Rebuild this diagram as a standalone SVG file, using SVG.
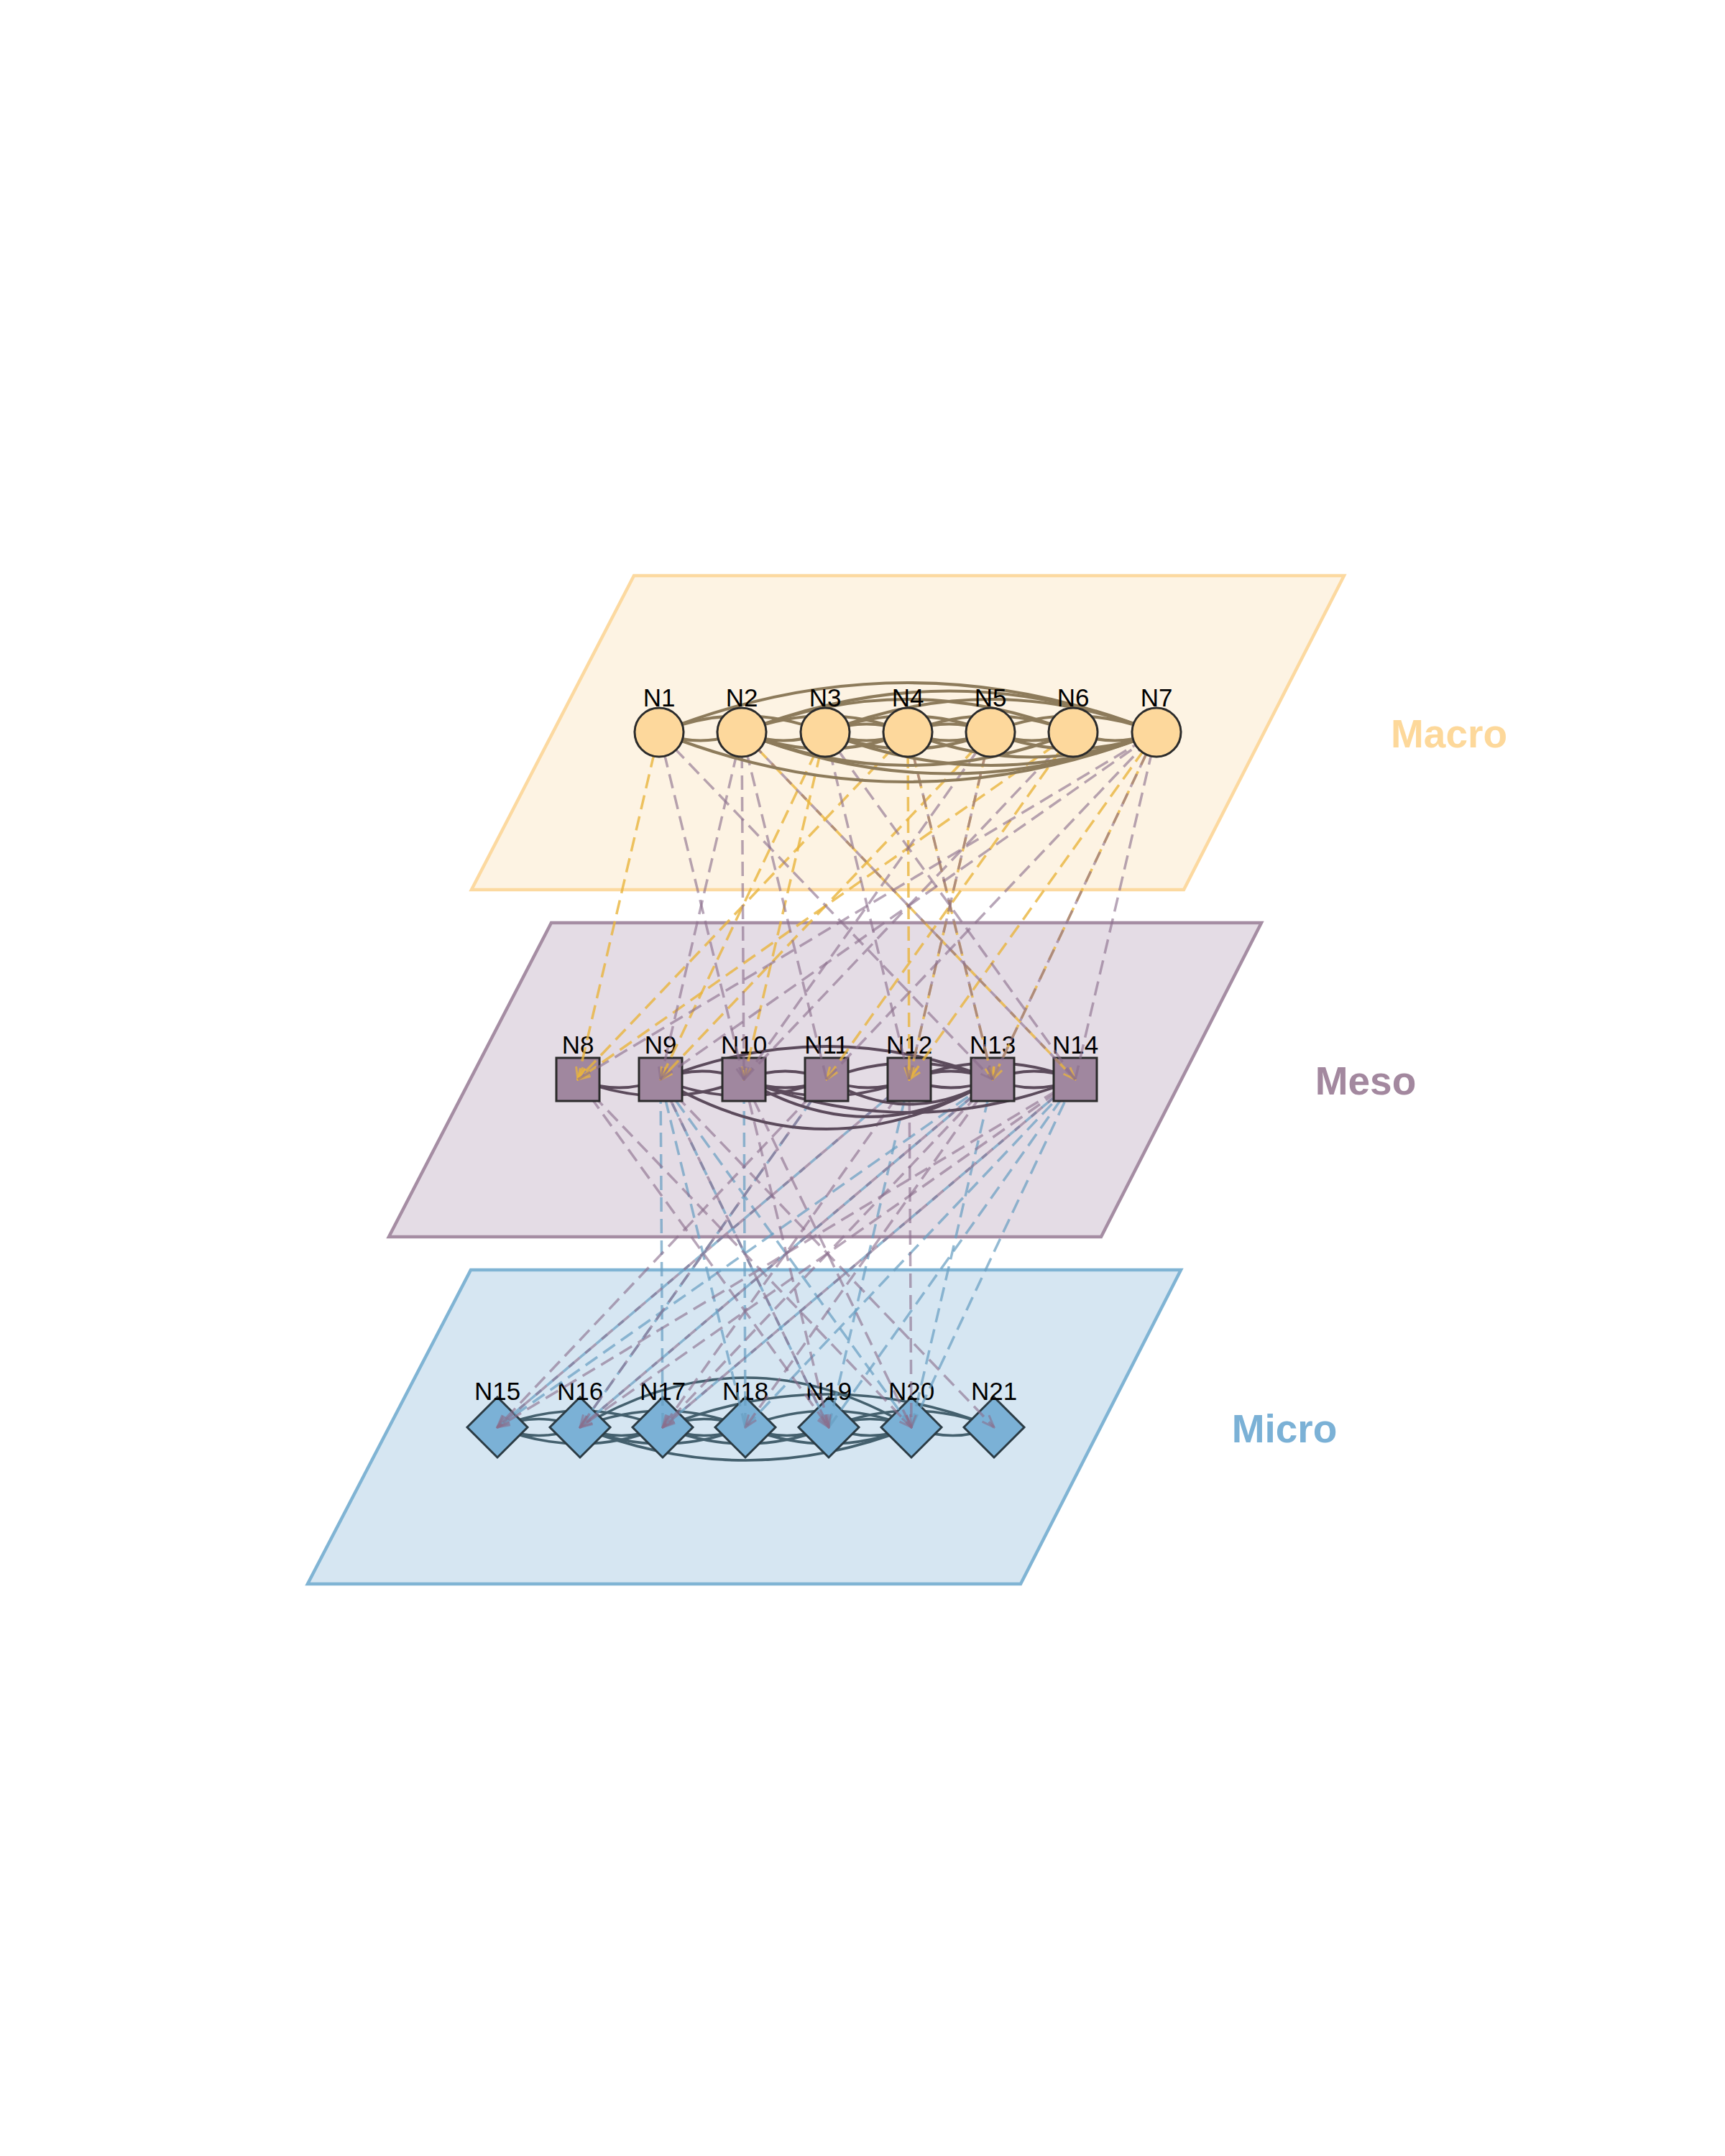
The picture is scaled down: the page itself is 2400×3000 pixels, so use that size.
<svg xmlns="http://www.w3.org/2000/svg" width="2400" height="3000" viewBox="0 0 2400 3000">
<defs>
<style>
.lbl{font-family:"Liberation Sans",Arial,sans-serif;font-size:35px;fill:#000;text-anchor:middle}
.layer{font-family:"Liberation Sans",Arial,sans-serif;font-size:55px;font-weight:bold;text-anchor:middle}
.em{fill:none;stroke:#8d7b5b;stroke-width:4.2}
.es{fill:none;stroke:#5c4b5c;stroke-width:4}
.eu{fill:none;stroke:#44606e;stroke-width:3.6}
.y{fill:none;stroke:#e9b43c;stroke-opacity:0.8;stroke-width:3.5;stroke-dasharray:20 10;marker-end:url(#ay)}
.p{fill:none;stroke:#8a6e8c;stroke-opacity:0.62;stroke-width:3.5;stroke-dasharray:20 10;marker-end:url(#ap)}
.b{fill:none;stroke:#6a9fc2;stroke-opacity:0.72;stroke-width:3.5;stroke-dasharray:20 10;marker-end:url(#ab)}
.nm{fill:#fdd89c;stroke:#2b2b2b;stroke-width:3}
.ns{fill:#a0879f;stroke:#2b2b2b;stroke-width:3}
.nu{fill:#7bb1d6;stroke:#2b3b44;stroke-width:3}
</style>
<marker id="ay" viewBox="-20 -10 22 20" refX="0" refY="0" markerWidth="22" markerHeight="20" markerUnits="userSpaceOnUse" orient="auto"><path d="M-17,-6.5 L0,0 L-17,6.5" fill="none" stroke="#e9b43c" stroke-opacity="0.75" stroke-width="3"/></marker>
<marker id="ap" viewBox="-20 -10 22 20" refX="0" refY="0" markerWidth="22" markerHeight="20" markerUnits="userSpaceOnUse" orient="auto"><path d="M-17,-6.5 L0,0 L-17,6.5" fill="none" stroke="#8a6e8c" stroke-opacity="0.6" stroke-width="3"/></marker>
<marker id="ab" viewBox="-20 -10 22 20" refX="0" refY="0" markerWidth="22" markerHeight="20" markerUnits="userSpaceOnUse" orient="auto"><path d="M-17,-6.5 L0,0 L-17,6.5" fill="none" stroke="#6a9fc2" stroke-opacity="0.7" stroke-width="3"/></marker>
</defs>
<rect width="2400" height="3000" fill="#ffffff"/>

<g id="planes">
<polygon id="plane-macro" points="882,801 1870,801 1647,1238 656,1238" fill="#fdf3e3" stroke="#fcd9a0" stroke-width="4.5"/>
<polygon id="plane-meso" points="767,1284 1755,1284 1532,1721 541,1721" fill="#e4dce5" stroke="#a58da3" stroke-width="4.5"/>
<polygon id="plane-micro" points="655,1767 1643,1767 1420,2204 428,2204" fill="#d6e6f2" stroke="#80b4d4" stroke-width="4.5"/>
</g>

<g id="micro-connectors">
<path class="eu" d="M807,1986 Q1037.5,1848 1268,1986"/>
<path class="eu" d="M922,1986 Q1152.5,1894 1383,1986"/>
<path class="eu" d="M692,1986 Q807,1940 922,1986"/>
<path class="eu" d="M807,1986 Q922,1940 1037,1986"/>
<path class="eu" d="M1037,1986 Q1152.5,1940 1268,1986"/>
<path class="eu" d="M692,1986 Q749.5,1963 807,1986"/>
<path class="eu" d="M922,1986 Q979.5,1963 1037,1986"/>
<path class="eu" d="M1153,1986 Q1210.5,1963 1268,1986"/>
<path class="eu" d="M1153,1986 Q1268,1940 1383,1986"/>
<path class="eu" d="M807,1986 Q1037.5,2078 1268,1986"/>
<path class="eu" d="M807,1986 Q922,2032 1037,1986"/>
<path class="eu" d="M922,1986 Q1037.5,2032 1153,1986"/>
<path class="eu" d="M1037,1986 Q1152.5,2032 1268,1986"/>
<path class="eu" d="M692,1986 Q749.5,2009 807,1986"/>
<path class="eu" d="M807,1986 Q864.5,2009 922,1986"/>
<path class="eu" d="M922,1986 Q979.5,2009 1037,1986"/>
<path class="eu" d="M1037,1986 Q1095,2009 1153,1986"/>
<path class="eu" d="M1153,1986 Q1210.5,2009 1268,1986"/>
<path class="eu" d="M1268,1986 Q1325.5,2009 1383,1986"/>
<path class="eu" d="M692,1986 Q807,2032 922,1986"/>
</g>

<g id="N15"><polygon class="nu" points="692,1944 734,1986 692,2028 650,1986"/><text class="lbl" x="692" y="1948">N15</text></g>
<g id="N16"><polygon class="nu" points="807,1944 849,1986 807,2028 765,1986"/><text class="lbl" x="807" y="1948">N16</text></g>
<g id="N17"><polygon class="nu" points="922,1944 964,1986 922,2028 880,1986"/><text class="lbl" x="922" y="1948">N17</text></g>
<g id="N18"><polygon class="nu" points="1037,1944 1079,1986 1037,2028 995,1986"/><text class="lbl" x="1037" y="1948">N18</text></g>
<g id="N19"><polygon class="nu" points="1153,1944 1195,1986 1153,2028 1111,1986"/><text class="lbl" x="1153" y="1948">N19</text></g>
<g id="N20"><polygon class="nu" points="1268,1944 1310,1986 1268,2028 1226,1986"/><text class="lbl" x="1268" y="1948">N20</text></g>
<g id="N21"><polygon class="nu" points="1383,1944 1425,1986 1383,2028 1341,1986"/><text class="lbl" x="1383" y="1948">N21</text></g>

<g id="meso-micro-connectors">
<path class="b" d="M922,1986 L919,1502"/>
<path class="b" d="M1037,1986 L919,1502"/>
<path class="b" d="M1153,1986 L919,1502"/>
<path class="b" d="M1268,1986 L919,1502"/>
<path class="b" d="M1037,1986 L1035,1502"/>
<path class="b" d="M692,1986 L1265,1502"/>
<path class="b" d="M692,1986 L1381,1502"/>
<path class="b" d="M807,1986 L1150,1502"/>
<path class="b" d="M922,1986 L1496,1502"/>
<path class="b" d="M1037,1986 L1496,1502"/>
<path class="b" d="M1153,1986 L1265,1502"/>
<path class="b" d="M1268,1986 L1381,1502"/>
<path class="b" d="M1268,1986 L1496,1502"/>
<path class="b" d="M1153,1986 L1496,1502"/>
<path class="b" d="M807,1986 L1381,1502"/>
<path class="p" d="M804,1502 L1268,1986"/>
<path class="p" d="M804,1502 L1153,1986"/>
<path class="p" d="M919,1502 L1383,1986"/>
<path class="p" d="M1150,1502 L692,1986"/>
<path class="p" d="M1265,1502 L692,1986"/>
<path class="p" d="M1150,1502 L807,1986"/>
<path class="p" d="M1381,1502 L807,1986"/>
<path class="p" d="M1381,1502 L922,1986"/>
<path class="p" d="M1496,1502 L922,1986"/>
<path class="p" d="M1381,1502 L1037,1986"/>
<path class="p" d="M1035,1502 L1153,1986"/>
<path class="p" d="M1265,1502 L1268,1986"/>
<path class="p" d="M1496,1502 L692,1986"/>
<path class="p" d="M1496,1502 L807,1986"/>
<path class="p" d="M919,1502 L1153,1986"/>
<path class="p" d="M1265,1502 L922,1986"/>
<path class="p" d="M1035,1502 L1268,1986"/>
</g>

<g id="meso-connectors">
<path class="es" d="M919,1502 Q1150,1410 1381,1502"/>
<path class="es" d="M1265,1502 Q1380.5,1456 1496,1502"/>
<path class="es" d="M919,1502 Q977,1479 1035,1502"/>
<path class="es" d="M1035,1502 Q1092.5,1479 1150,1502"/>
<path class="es" d="M1265,1502 Q1323,1479 1381,1502"/>
<path class="es" d="M1381,1502 Q1438.5,1479 1496,1502"/>
<path class="es" d="M1150,1502 Q1265.5,1456 1381,1502"/>
<path class="es" d="M804,1502 Q861.5,1525 919,1502"/>
<path class="es" d="M804,1502 Q919.5,1548 1035,1502"/>
<path class="es" d="M919,1502 Q1150,1640 1381,1502"/>
<path class="es" d="M1035,1502 Q1208,1606 1381,1502"/>
<path class="es" d="M1150,1502 Q1265.5,1571 1381,1502"/>
<path class="es" d="M1035,1502 Q1092.5,1525 1150,1502"/>
<path class="es" d="M1150,1502 Q1207.5,1525 1265,1502"/>
<path class="es" d="M1265,1502 Q1323,1525 1381,1502"/>
<path class="es" d="M1381,1502 Q1438.5,1525 1496,1502"/>
<path class="es" d="M919,1502 Q1034.5,1548 1150,1502"/>
<path class="es" d="M1035,1502 Q1150,1548 1265,1502"/>
<path class="es" d="M1035,1502 Q1265.5,1594 1496,1502"/>
</g>

<g id="N8"><rect class="ns" x="774" y="1472" width="60" height="60"/><text class="lbl" x="804" y="1466">N8</text></g>
<g id="N9"><rect class="ns" x="889" y="1472" width="60" height="60"/><text class="lbl" x="919" y="1466">N9</text></g>
<g id="N10"><rect class="ns" x="1005" y="1472" width="60" height="60"/><text class="lbl" x="1035" y="1466">N10</text></g>
<g id="N11"><rect class="ns" x="1120" y="1472" width="60" height="60"/><text class="lbl" x="1150" y="1466">N11</text></g>
<g id="N12"><rect class="ns" x="1235" y="1472" width="60" height="60"/><text class="lbl" x="1265" y="1466">N12</text></g>
<g id="N13"><rect class="ns" x="1351" y="1472" width="60" height="60"/><text class="lbl" x="1381" y="1466">N13</text></g>
<g id="N14"><rect class="ns" x="1466" y="1472" width="60" height="60"/><text class="lbl" x="1496" y="1466">N14</text></g>

<g id="macro-meso-connectors">
<path class="y" d="M917,1019 L804,1502"/>
<path class="y" d="M1493,1019 L804,1502"/>
<path class="y" d="M1263,1019 L804,1502"/>
<path class="y" d="M1148,1019 L919,1502"/>
<path class="y" d="M1148,1019 L1035,1502"/>
<path class="y" d="M1263,1019 L1265,1502"/>
<path class="y" d="M1263,1019 L1381,1502"/>
<path class="y" d="M1032,1019 L1496,1502"/>
<path class="y" d="M1609,1019 L1265,1502"/>
<path class="y" d="M1609,1019 L1381,1502"/>
<path class="y" d="M1493,1019 L1150,1502"/>
<path class="y" d="M1378,1019 L1265,1502"/>
<path class="y" d="M1378,1019 L919,1502"/>
<path class="p" d="M917,1019 L1381,1502"/>
<path class="p" d="M1032,1019 L919,1502"/>
<path class="p" d="M1032,1019 L1035,1502"/>
<path class="p" d="M917,1019 L1035,1502"/>
<path class="p" d="M1150,1502 L1032,1019"/>
<path class="p" d="M1496,1502 L1032,1019"/>
<path class="p" d="M1265,1502 L1148,1019"/>
<path class="p" d="M1496,1502 L1148,1019"/>
<path class="p" d="M1381,1502 L1263,1019"/>
<path class="p" d="M1265,1502 L1378,1019"/>
<path class="p" d="M804,1502 L1609,1019"/>
<path class="p" d="M919,1502 L1609,1019"/>
<path class="p" d="M1150,1502 L1609,1019"/>
<path class="p" d="M1496,1502 L1609,1019"/>
<path class="p" d="M1035,1502 L1493,1019"/>
<path class="p" d="M1381,1502 L1609,1019"/>
<path class="p" d="M1035,1502 L1378,1019"/>
</g>

<g id="macro-connectors">
<path class="em" d="M917,1019 Q1263,881 1609,1019"/>
<path class="em" d="M1032,1019 Q1320.5,904 1609,1019"/>
<path class="em" d="M1032,1019 Q1262.5,927 1493,1019"/>
<path class="em" d="M1148,1019 Q1378.5,927 1609,1019"/>
<path class="em" d="M917,1019 Q1032.5,973 1148,1019"/>
<path class="em" d="M1032,1019 Q1147.5,973 1263,1019"/>
<path class="em" d="M1148,1019 Q1263,973 1378,1019"/>
<path class="em" d="M1263,1019 Q1378,973 1493,1019"/>
<path class="em" d="M1378,1019 Q1493.5,973 1609,1019"/>
<path class="em" d="M1263,1019 Q1320.5,996 1378,1019"/>
<path class="em" d="M1148,1019 Q1205.5,996 1263,1019"/>
<path class="em" d="M917,1019 Q1263,1157 1609,1019"/>
<path class="em" d="M1032,1019 Q1320.5,1134 1609,1019"/>
<path class="em" d="M1148,1019 Q1378.5,1111 1609,1019"/>
<path class="em" d="M1032,1019 Q1262.5,1111 1493,1019"/>
<path class="em" d="M917,1019 Q974.5,1042 1032,1019"/>
<path class="em" d="M1032,1019 Q1090,1042 1148,1019"/>
<path class="em" d="M1148,1019 Q1205.5,1042 1263,1019"/>
<path class="em" d="M1263,1019 Q1320.5,1042 1378,1019"/>
<path class="em" d="M1378,1019 Q1435.5,1042 1493,1019"/>
<path class="em" d="M1493,1019 Q1551,1042 1609,1019"/>
<path class="em" d="M1032,1019 Q1147.5,1065 1263,1019"/>
<path class="em" d="M1148,1019 Q1263,1065 1378,1019"/>
<path class="em" d="M1378,1019 Q1493.5,1065 1609,1019"/>
<path class="em" d="M1263,1019 Q1436,1088 1609,1019"/>
</g>

<g id="N1"><circle class="nm" cx="917" cy="1019" r="34"/><text class="lbl" x="917" y="983">N1</text></g>
<g id="N2"><circle class="nm" cx="1032" cy="1019" r="34"/><text class="lbl" x="1032" y="983">N2</text></g>
<g id="N3"><circle class="nm" cx="1148" cy="1019" r="34"/><text class="lbl" x="1148" y="983">N3</text></g>
<g id="N4"><circle class="nm" cx="1263" cy="1019" r="34"/><text class="lbl" x="1263" y="983">N4</text></g>
<g id="N5"><circle class="nm" cx="1378" cy="1019" r="34"/><text class="lbl" x="1378" y="983">N5</text></g>
<g id="N6"><circle class="nm" cx="1493" cy="1019" r="34"/><text class="lbl" x="1493" y="983">N6</text></g>
<g id="N7"><circle class="nm" cx="1609" cy="1019" r="34"/><text class="lbl" x="1609" y="983">N7</text></g>

<g id="layer-labels">
<text class="layer" x="2016" y="1040" fill="#fdd89a">Macro</text>
<text class="layer" x="1900" y="1523" fill="#a3889f">Meso</text>
<text class="layer" x="1787" y="2007" fill="#7bb1d6">Micro</text>
</g>
</svg>
